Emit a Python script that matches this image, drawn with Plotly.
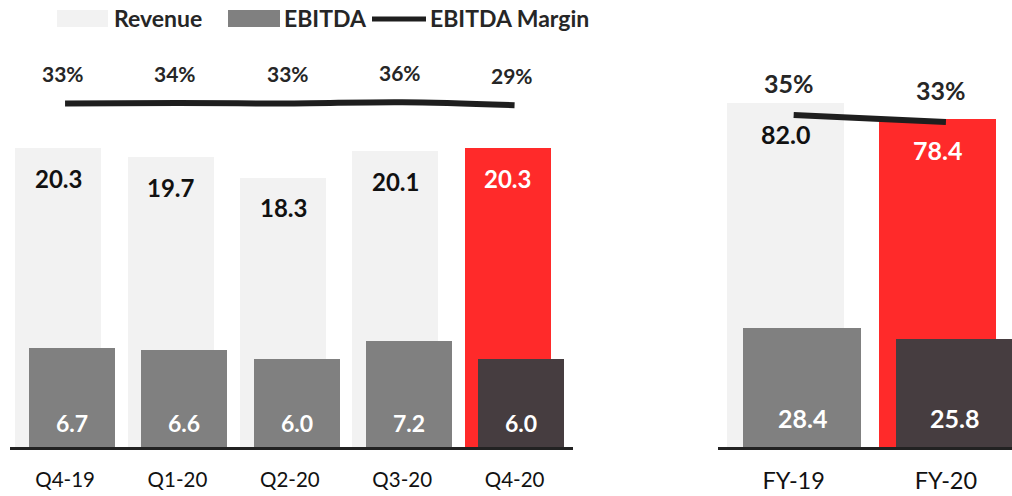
import plotly.graph_objects as go

# ---------------- data ----------------
quarters = ["Q4-19", "Q1-20", "Q2-20", "Q3-20", "Q4-20"]
rev_q = [20.3, 19.7, 18.3, 20.1, 20.3]
ebitda_q = [6.7, 6.6, 6.0, 7.2, 6.0]
margin_q = [33, 34, 33, 36, 29]

years = ["FY-19", "FY-20"]
rev_y = [82.0, 78.4]
ebitda_y = [28.4, 25.8]
margin_y = [35, 33]

# ---------------- style ----------------
W, H = 1012, 496
MB = 49
PH = H - MB
FONT = "Lato"
LIGHT = "#F2F2F2"
GRAY = "#808080"
RED = "#FF2A2A"
DARK = "#463D40"
LINEC = "#1E1E1E"
TXT = "#262626"


def px(x):
    return x / W


def py(y):
    return (PH - y) / PH


xq = list(range(len(quarters)))
xy = list(range(len(years)))

BW_Q, SH_Q = 0.765, 0.06
BW_Y, SH_Y = 0.77, 0.055

rev_q_col = [LIGHT] * (len(quarters) - 1) + [RED]
eb_q_col = [GRAY] * (len(quarters) - 1) + [DARK]
rev_y_col = [LIGHT, RED]
eb_y_col = [GRAY, DARK]

fig = go.Figure()

# quarterly bars
fig.add_trace(go.Bar(x=xq, y=rev_q, width=BW_Q, offset=-BW_Q / 2 - SH_Q,
                     marker=dict(color=rev_q_col, line=dict(width=0)),
                     xaxis="x", yaxis="y", showlegend=False, hoverinfo="skip"))
fig.add_trace(go.Bar(x=xq, y=ebitda_q, width=BW_Q, offset=-BW_Q / 2 + SH_Q,
                     marker=dict(color=eb_q_col, line=dict(width=0)),
                     xaxis="x", yaxis="y", showlegend=False, hoverinfo="skip"))
fig.add_trace(go.Scatter(x=xq, y=margin_q, mode="lines",
                         line=dict(color=LINEC, width=6, shape="spline"),
                         xaxis="x", yaxis="y3", showlegend=False, hoverinfo="skip"))

# yearly bars
fig.add_trace(go.Bar(x=xy, y=rev_y, width=BW_Y, offset=-BW_Y / 2 - SH_Y,
                     marker=dict(color=rev_y_col, line=dict(width=0)),
                     xaxis="x2", yaxis="y2", showlegend=False, hoverinfo="skip"))
fig.add_trace(go.Bar(x=xy, y=ebitda_y, width=BW_Y, offset=-BW_Y / 2 + SH_Y,
                     marker=dict(color=eb_y_col, line=dict(width=0)),
                     xaxis="x2", yaxis="y2", showlegend=False, hoverinfo="skip"))
fig.add_trace(go.Scatter(x=xy, y=margin_y, mode="lines",
                         line=dict(color=LINEC, width=6),
                         xaxis="x2", yaxis="y4", showlegend=False, hoverinfo="skip"))

ann = []
# revenue labels
for i, v in enumerate(rev_q):
    ann.append(dict(x=i - SH_Q, y=v, xref="x", yref="y", text=f"<b>{v:.1f}</b>",
                    showarrow=False, yshift=-30,
                    font=dict(family=FONT, size=24, color="white" if rev_q_col[i] == RED else "#111111")))
for i, v in enumerate(ebitda_q):
    ann.append(dict(x=i + SH_Q, y=0, xref="x", yref="y", text=f"<b>{v:.1f}</b>",
                    showarrow=False, yshift=24,
                    font=dict(family=FONT, size=23, color="white")))
for i, v in enumerate(margin_q):
    ann.append(dict(x=i - 0.02, y=v, xref="x", yref="y3", text=f"<b>{v}%</b>",
                    showarrow=False, yshift=30,
                    font=dict(family=FONT, size=21, color=TXT)))
for i, v in enumerate(rev_y):
    ann.append(dict(x=i - SH_Y, y=v, xref="x2", yref="y2", text=f"<b>{v:.1f}</b>",
                    showarrow=False, yshift=-31,
                    font=dict(family=FONT, size=25, color="white" if rev_y_col[i] == RED else "#111111")))
for i, v in enumerate(ebitda_y):
    ann.append(dict(x=i + SH_Y, y=0, xref="x2", yref="y2", text=f"<b>{v:.1f}</b>",
                    showarrow=False, yshift=29,
                    font=dict(family=FONT, size=25, color="white")))
for i, v in enumerate(margin_y):
    ann.append(dict(x=i - 0.03, y=v, xref="x2", yref="y4", text=f"<b>{v}%</b>",
                    showarrow=False, yshift=32,
                    font=dict(family=FONT, size=25, color=TXT)))

# legend (manual)
shapes = [
    dict(type="rect", xref="paper", yref="paper", x0=px(57), x1=px(108), y0=py(27), y1=py(10),
         fillcolor=LIGHT, line=dict(width=0)),
    dict(type="rect", xref="paper", yref="paper", x0=px(228), x1=px(280), y0=py(27), y1=py(10),
         fillcolor=GRAY, line=dict(width=0)),
    dict(type="line", xref="paper", yref="paper", x0=px(372), x1=px(426), y0=py(19), y1=py(19),
         line=dict(color=LINEC, width=5)),
]
for xl, t in [(112, "Revenue"), (282, "EBITDA"), (428, "EBITDA Margin")]:
    ann.append(dict(x=px(xl), y=py(18), xref="paper", yref="paper", text=f"<b>{t}</b>",
                    showarrow=False, xanchor="left", yanchor="middle",
                    font=dict(family=FONT, size=23, color=TXT)))

fig.update_layout(
    width=W, height=H,
    margin=dict(l=0, r=0, t=0, b=MB, autoexpand=False),
    paper_bgcolor="white", plot_bgcolor="white",
    barmode="overlay", bargap=0,
    font=dict(family=FONT, color="#111111"),
    annotations=ann, shapes=shapes,
    xaxis=dict(domain=[px(10), px(573)], range=[-0.49, 4.52], tickvals=xq, ticktext=quarters,
               showgrid=False, zeroline=False, showline=True, linecolor="#222222", linewidth=3,
               ticks="", ticklabelstandoff=12, tickfont=dict(family=FONT, size=20.5, color="#111111"),
               anchor="y", fixedrange=True, automargin=False),
    xaxis2=dict(domain=[px(718), 1.0], range=[-0.497, 1.434], tickvals=xy, ticktext=years,
                showgrid=False, zeroline=False, showline=True, linecolor="#222222", linewidth=3,
                ticks="", ticklabelstandoff=11, tickfont=dict(family=FONT, size=23.5, color="#111111"),
                anchor="y2", fixedrange=True, automargin=False),
    yaxis=dict(domain=[0, 1], range=[0, PH / 14.72], visible=False, anchor="x", automargin=False),
    yaxis2=dict(domain=[0, 1], range=[0, PH / 4.19], visible=False, anchor="x2", automargin=False),
    yaxis3=dict(overlaying="y", range=[-765.8, 273.7], visible=False, anchor="x", automargin=False),
    yaxis4=dict(overlaying="y2", range=[-59.86, 67.85], visible=False, anchor="x2", automargin=False),
)

fig.write_html("out.html", config=dict(displayModeBar=False),
               post_script="document.body.style.margin='0';document.body.style.overflow='hidden';")
